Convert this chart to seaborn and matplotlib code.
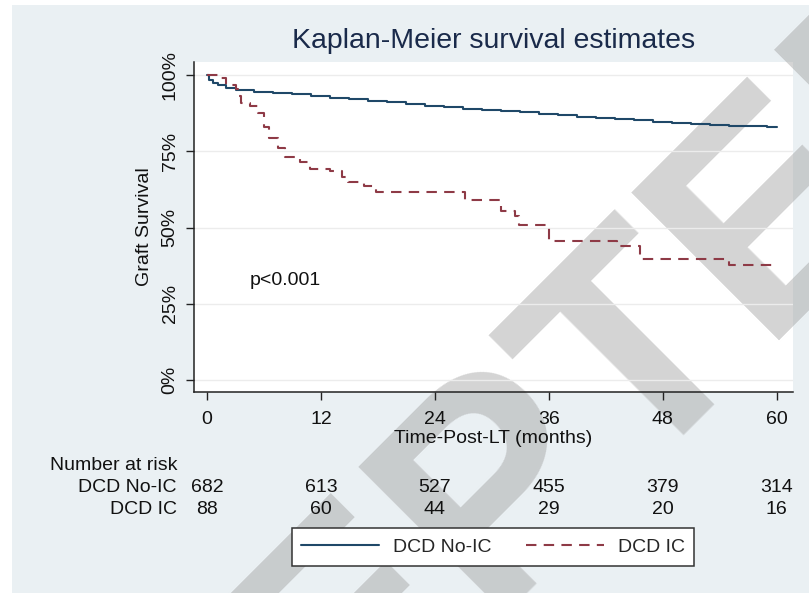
import matplotlib
matplotlib.use("Agg")
import matplotlib.pyplot as plt
import matplotlib.transforms as mtransforms
from matplotlib.patches import Rectangle
import pandas as pd
import seaborn as sns

# survival curves (months, fraction surviving)
noic_time = [0, 0.2, 0.6, 1.2, 2, 3, 5, 7, 9, 11, 13, 15, 17, 19, 21, 23, 25, 27, 29,
             31, 33, 35, 37, 39, 41, 43, 45, 47, 49, 51, 53, 55, 57, 59, 60]
noic_surv = [1.0, .985, .975, .967, .958, .950, .946, .942, .937, .930, .925, .921, .916,
             .912, .906, .900, .894, .890, .885, .882, .878, .874, .870, .864, .860, .856,
             .852, .846, .842, .840, .837, .834, .832, .830, .829]
ic_time = [0, 1.2, 2.0, 3.0, 3.3, 3.6, 4.5, 5.4, 6.0, 6.5, 7.5, 8.2, 9.8, 10.8, 13.0,
           14.2, 14.8, 16.5, 17.8, 27.2, 31.0, 32.4, 32.8, 36.0, 43.2, 45.6, 55.0, 60.0]
ic_surv = [1.0, .989, .966, .955, .932, .909, .898, .875, .830, .795, .760, .730, .715,
           .693, .684, .665, .648, .635, .618, .589, .554, .537, .508, .456, .441, .398,
           .378, .378]

groups = ["DCD No-IC", "DCD IC"]
colors = ["#1f4868", "#8e3a46"]

# number at risk table
risk_times = [0, 12, 24, 36, 48, 60]
risk_noic = [682, 613, 527, 455, 379, 314]
risk_ic = [88, 60, 44, 29, 20, 16]

y_ticks = [0, 0.25, 0.5, 0.75, 1.0]
y_labels = ["0%", "25%", "50%", "75%", "100%"]

sns.set_theme(style="white")
plt.rcParams["font.family"] = ["Liberation Sans", "DejaVu Sans"]

W, H = 809, 593
fig = plt.figure(figsize=(W / 100, H / 100), dpi=100, facecolor="white")

# stata style backgrounds
fig.patches.append(Rectangle((12 / W, 0), 1, 1 - 5 / H, transform=fig.transFigure,
                             facecolor="#eaf0f3", edgecolor="none", zorder=-3))
ax_box = [194 / W, 1 - 392 / H, (793 - 194) / W, (392 - 62) / H]
fig.patches.append(Rectangle((ax_box[0], ax_box[1]), ax_box[2], ax_box[3],
                             transform=fig.transFigure, facecolor="white",
                             edgecolor="none", zorder=-2))

# watermark behind the plot content
fig.text(472 / W, 1 - 640 / H, "ACCEPTED", rotation=45, rotation_mode="anchor",
         ha="center", va="baseline", fontsize=218, fontweight="bold",
         color="#a0a0a0", alpha=0.45, zorder=-1)

ax = fig.add_axes(ax_box)
ax.set_facecolor("none")

df_noic = pd.DataFrame({"time": noic_time, "surv": noic_surv})
df_ic = pd.DataFrame({"time": ic_time, "surv": ic_surv})
sns.lineplot(data=df_noic, x="time", y="surv", ax=ax, color=colors[0], lw=1.5,
             drawstyle="steps-post", estimator=None, label=groups[0])
sns.lineplot(data=df_ic, x="time", y="surv", ax=ax, color=colors[1], lw=1.5,
             drawstyle="steps-post", estimator=None, label=groups[1],
             linestyle=(0, (5, 3.5)))

ax.set_xlim(-1.37, 61.7)
ax.set_ylim(-0.039, 1.043)
ax.set_xticks(risk_times)
ax.set_yticks(y_ticks)
ax.set_yticklabels(y_labels, rotation=90, va="center")
ax.yaxis.grid(True, color="#ececec", lw=1)
ax.set_axisbelow(True)
for s in ["top", "right"]:
    ax.spines[s].set_visible(False)
for s in ["left", "bottom"]:
    ax.spines[s].set_color("#222222")
    ax.spines[s].set_linewidth(1.1)
ax.tick_params(axis="both", which="major", length=6, width=1, color="#222222",
               labelsize=14, labelcolor="#111111", left=True, bottom=True)
ax.tick_params(axis="x", pad=8)
ax.tick_params(axis="y", pad=5)

ax.set_xlabel("Time-Post-LT (months)", fontsize=14, color="#111111", labelpad=1)
ax.set_ylabel("Graft Survival", fontsize=14, color="#111111", labelpad=6)
ax.set_title("Kaplan-Meier survival estimates", fontsize=20.5, color="#1a2a4a", pad=10)
ax.text(4.5, 0.325, "p<0.001", fontsize=14, color="#111111", va="center")

# number at risk rows
trans = mtransforms.blended_transform_factory(ax.transData, fig.transFigure)
fig.text(177 / W, 1 - 465 / H, "Number at risk", ha="right", va="center",
         fontsize=14, color="#111111")
for label, counts, ypix in [(groups[0], risk_noic, 487), (groups[1], risk_ic, 509)]:
    fig.text(177 / W, 1 - ypix / H, label, ha="right", va="center", fontsize=14,
             color="#111111")
    for t, n in zip(risk_times, counts):
        ax.text(t, 1 - ypix / H, str(n), transform=trans, ha="center", va="center",
                fontsize=14, color="#111111", clip_on=False)

leg = ax.legend(loc="center", bbox_to_anchor=(493 / W, 1 - 547 / H),
                bbox_transform=fig.transFigure, ncol=2, fontsize=14, frameon=True,
                fancybox=False, handlelength=4.0, handletextpad=0.7,
                columnspacing=1.8, borderpad=0.5)
leg.get_frame().set_edgecolor("#333333")
leg.get_frame().set_linewidth(1.1)
leg.get_frame().set_facecolor("white")
leg.get_frame().set_alpha(1)

fig.savefig("out.png", dpi=100)
